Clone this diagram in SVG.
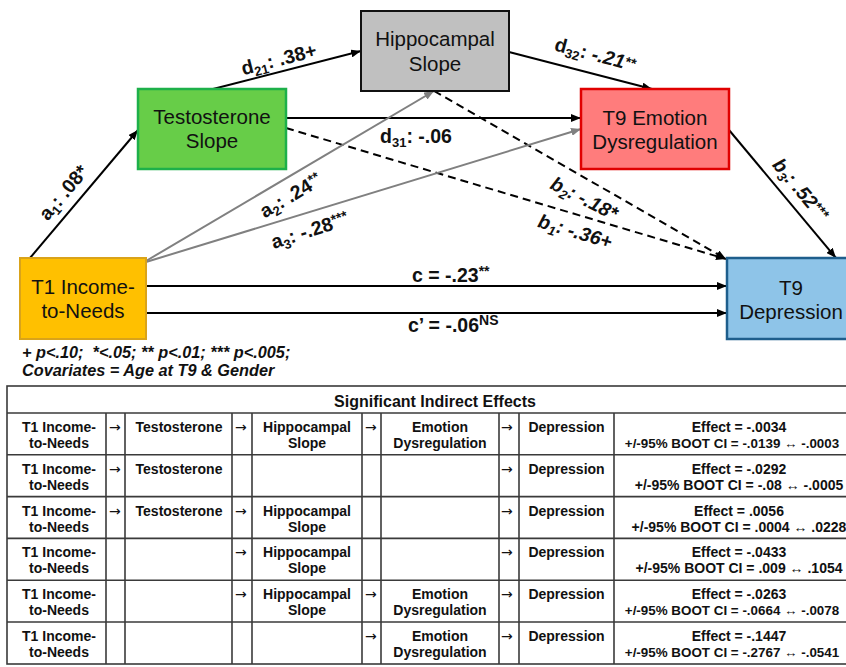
<svg xmlns="http://www.w3.org/2000/svg" width="846" height="667" viewBox="0 0 846 667">
<style>
.node{font-family:"Liberation Sans",Arial,sans-serif;font-size:20.5px;fill:#111;text-anchor:middle}
.lab{font-family:"Liberation Sans",Arial,sans-serif;font-size:19.5px;font-weight:bold;fill:#111}
.it{font-style:italic}
.sub{font-size:13px}
.sup{font-size:14px}
.blk{stroke:#000;stroke-width:2;fill:none}
.gry{stroke:#808080;stroke-width:2;fill:none}
.dash{stroke-dasharray:8 5}
.note{font-family:"Liberation Sans",Arial,sans-serif;font-size:16.3px;font-weight:bold;font-style:italic;fill:#111;white-space:pre}
.tl{stroke:#3a3a3a;stroke-width:1.6;fill:none}
.tt{font-family:"Liberation Sans",Arial,sans-serif;font-size:14px;font-weight:bold;fill:#111;text-anchor:middle}
.tn{font-size:13.4px}
.ta{font-family:"DejaVu Sans",sans-serif;font-size:14px;fill:#111}
.title{font-family:"Liberation Sans",Arial,sans-serif;font-size:16px;font-weight:bold;fill:#111;text-anchor:middle}
</style>
<defs>
<marker id="ab" viewBox="0 0 10 8" refX="10" refY="4" markerWidth="10" markerHeight="8" markerUnits="userSpaceOnUse" orient="auto"><path d="M0,0 L10,4 L0,8 z" fill="#000"/></marker>
<marker id="ag" viewBox="0 0 10 8" refX="10" refY="4" markerWidth="10" markerHeight="8" markerUnits="userSpaceOnUse" orient="auto"><path d="M0,0 L10,4 L0,8 z" fill="#808080"/></marker>
</defs>
<rect width="846" height="667" fill="#fff"/>

<g id="connectors">
<line class="blk" x1="30" y1="258" x2="138" y2="130" marker-end="url(#ab)"/>
<line class="blk" x1="213" y1="89" x2="361" y2="51" marker-end="url(#ab)"/>
<line class="blk" x1="286" y1="118" x2="581" y2="118" marker-end="url(#ab)"/>
<line class="blk dash" x1="286" y1="128" x2="726" y2="259" marker-end="url(#ab)"/>
<line class="blk" x1="509" y1="52" x2="652" y2="89" marker-end="url(#ab)"/>
<line class="blk dash" x1="434" y1="91" x2="726" y2="259" marker-end="url(#ab)"/>
<line class="gry" x1="146" y1="261" x2="434" y2="91" marker-end="url(#ag)"/>
<line class="gry" x1="146" y1="262" x2="581" y2="129" marker-end="url(#ag)"/>
<line class="blk" x1="729" y1="130" x2="836" y2="258" marker-end="url(#ab)"/>
<line class="blk" x1="146" y1="286" x2="727" y2="286" marker-end="url(#ab)"/>
<line class="blk" x1="146" y1="313" x2="727" y2="313" marker-end="url(#ab)"/>
</g>

<g id="node-testosterone">
<rect x="138" y="89" width="148" height="80" fill="#67CD48" stroke="#1DB04A" stroke-width="2.5"/>
<text class="node" x="212" y="124">Testosterone</text>
<text class="node" x="212" y="148">Slope</text>
</g>
<g id="node-hippocampal">
<rect x="361" y="11" width="148" height="80" fill="#C0C0C0" stroke="#111" stroke-width="2"/>
<text class="node" x="435" y="46">Hippocampal</text>
<text class="node" x="435" y="71">Slope</text>
</g>
<g id="node-emotion">
<rect x="581" y="89" width="148" height="80" fill="#FF7C7C" stroke="#E00000" stroke-width="2.5"/>
<text class="node" x="655" y="125">T9 Emotion</text>
<text class="node" x="655" y="149">Dysregulation</text>
</g>
<g id="node-depression">
<rect x="727" y="258" width="130" height="81" fill="#8EC4E8" stroke="#1E5E8C" stroke-width="2.5"/>
<text class="node" x="791" y="295">T9</text>
<text class="node" x="791" y="319">Depression</text>
</g>
<g id="node-income">
<rect x="20" y="258" width="126" height="81" fill="#FFC000" stroke="#D9A31A" stroke-width="2"/>
<text class="node" x="83" y="294">T1 Income-</text>
<text class="node" x="83" y="318">to-Needs</text>
</g>

<g id="labels">
<g transform="translate(64,193) rotate(-49.8)"><text class="lab" x="0" y="6" text-anchor="middle">a<tspan class="sub" dy="4">1</tspan><tspan dy="-4">: .08*</tspan></text></g>
<g transform="translate(279,60) rotate(-14.4)"><text class="lab" x="0" y="6" text-anchor="middle">d<tspan class="sub" dy="4">21</tspan><tspan dy="-4">: .38+</tspan></text></g>
<text class="lab" x="380" y="143">d<tspan class="sub" dy="4">31</tspan><tspan dy="-4">: -.06</tspan></text>
<g transform="translate(595,55) rotate(14.9)"><text class="lab" x="0" y="6" text-anchor="middle">d<tspan class="sub" dy="4">32</tspan><tspan dy="-4">: </tspan><tspan class="it">-.21</tspan><tspan class="sup it" dy="-3">**</tspan></text></g>
<g transform="translate(291,196) rotate(-30.8)"><text class="lab" x="0" y="6" text-anchor="middle">a<tspan class="sub" dy="4">2</tspan><tspan dy="-4">: .24</tspan><tspan class="sup" dy="-5">**</tspan></text></g>
<g transform="translate(310,231) rotate(-18)"><text class="lab" x="0" y="6" text-anchor="middle">a<tspan class="sub" dy="4">3</tspan><tspan dy="-4">: -.28</tspan><tspan class="sup" dy="-5">***</tspan></text></g>
<g transform="translate(584,199) rotate(27)"><text class="lab it" x="0" y="6" text-anchor="middle">b<tspan class="sub" dy="4">2</tspan><tspan dy="-4">: -.18*</tspan></text></g>
<g transform="translate(575,232) rotate(16.7)"><text class="lab it" x="0" y="6" text-anchor="middle">b<tspan class="sub" dy="4">1</tspan><tspan dy="-4">: -.36+</tspan></text></g>
<g transform="translate(800,190) rotate(50)"><text class="lab it" x="0" y="6" text-anchor="middle">b<tspan class="sub" dy="4">3</tspan><tspan dy="-4">: .52</tspan><tspan class="sup" dy="-4">***</tspan></text></g>
<text class="lab" x="412" y="282">c = -.23<tspan class="sup" dy="-6">**</tspan></text>
<text class="lab" x="408" y="332">c’ = -.06<tspan class="sup" dy="-7">NS</tspan></text>
</g>

<g id="footnote">
<text class="note" x="22" y="358">+ p&lt;.10;  *&lt;.05; ** p&lt;.01; *** p&lt;.005;</text>
<text class="note" x="22" y="376">Covariates = Age at T9 &amp; Gender</text>
</g>

<g id="table">
<rect class="tl" x="7" y="386" width="860" height="278" stroke-width="2"/>
<line class="tl" x1="7" y1="413" x2="867" y2="413"/>
<line class="tl" x1="7" y1="454.8" x2="867" y2="454.8"/>
<line class="tl" x1="7" y1="496.6" x2="867" y2="496.6"/>
<line class="tl" x1="7" y1="538.4" x2="867" y2="538.4"/>
<line class="tl" x1="7" y1="580.2" x2="867" y2="580.2"/>
<line class="tl" x1="7" y1="622" x2="867" y2="622"/>
<line class="tl" x1="106" y1="413" x2="106" y2="664"/>
<line class="tl" x1="125" y1="413" x2="125" y2="664"/>
<line class="tl" x1="232" y1="413" x2="232" y2="664"/>
<line class="tl" x1="252" y1="413" x2="252" y2="664"/>
<line class="tl" x1="362" y1="413" x2="362" y2="664"/>
<line class="tl" x1="381" y1="413" x2="381" y2="664"/>
<line class="tl" x1="499" y1="413" x2="499" y2="664"/>
<line class="tl" x1="519" y1="413" x2="519" y2="664"/>
<line class="tl" x1="614" y1="413" x2="614" y2="664"/>
<text class="title" x="435" y="407">Significant Indirect Effects</text>

<!-- row 1 -->
<text class="tt" x="59" y="432">T1 Income-</text><text class="tt" x="59" y="448">to-Needs</text>
<text class="ta" x="109" y="432">→</text>
<text class="tt" x="179" y="432">Testosterone</text>
<text class="ta" x="235" y="432">→</text>
<text class="tt" x="307" y="432">Hippocampal</text><text class="tt" x="307" y="448">Slope</text>
<text class="ta" x="365" y="432">→</text>
<text class="tt" x="440" y="432">Emotion</text><text class="tt" x="440" y="448">Dysregulation</text>
<text class="ta" x="501" y="432">→</text>
<text class="tt" x="566.5" y="432">Depression</text>
<text class="tt" x="739" y="432">Effect = -.0034</text><text class="tt tn" x="732" y="448">+/-95% BOOT CI = -.0139 ↔ -.0003</text>

<!-- row 2 -->
<text class="tt" x="59" y="473.8">T1 Income-</text><text class="tt" x="59" y="489.8">to-Needs</text>
<text class="ta" x="109" y="473.8">→</text>
<text class="tt" x="179" y="473.8">Testosterone</text>
<text class="ta" x="501" y="473.8">→</text>
<text class="tt" x="566.5" y="473.8">Depression</text>
<text class="tt" x="739" y="473.8">Effect = -.0292</text><text class="tt" x="739" y="489.8">+/-95% BOOT CI = -.08 ↔ -.0005</text>

<!-- row 3 -->
<text class="tt" x="59" y="515.6">T1 Income-</text><text class="tt" x="59" y="531.6">to-Needs</text>
<text class="ta" x="109" y="515.6">→</text>
<text class="tt" x="179" y="515.6">Testosterone</text>
<text class="ta" x="235" y="515.6">→</text>
<text class="tt" x="307" y="515.6">Hippocampal</text><text class="tt" x="307" y="531.6">Slope</text>
<text class="ta" x="501" y="515.6">→</text>
<text class="tt" x="566.5" y="515.6">Depression</text>
<text class="tt" x="739" y="515.6">Effect = .0056</text><text class="tt" x="739" y="531.6">+/-95% BOOT CI = .0004 ↔ .0228</text>

<!-- row 4 -->
<text class="tt" x="59" y="557.4">T1 Income-</text><text class="tt" x="59" y="573.4">to-Needs</text>
<text class="ta" x="235" y="557.4">→</text>
<text class="tt" x="307" y="557.4">Hippocampal</text><text class="tt" x="307" y="573.4">Slope</text>
<text class="ta" x="501" y="557.4">→</text>
<text class="tt" x="566.5" y="557.4">Depression</text>
<text class="tt" x="739" y="557.4">Effect = -.0433</text><text class="tt" x="739" y="573.4">+/-95% BOOT CI = .009 ↔ .1054</text>

<!-- row 5 -->
<text class="tt" x="59" y="599.2">T1 Income-</text><text class="tt" x="59" y="615.2">to-Needs</text>
<text class="ta" x="235" y="599.2">→</text>
<text class="tt" x="307" y="599.2">Hippocampal</text><text class="tt" x="307" y="615.2">Slope</text>
<text class="ta" x="365" y="599.2">→</text>
<text class="tt" x="440" y="599.2">Emotion</text><text class="tt" x="440" y="615.2">Dysregulation</text>
<text class="ta" x="501" y="599.2">→</text>
<text class="tt" x="566.5" y="599.2">Depression</text>
<text class="tt" x="739" y="599.2">Effect = -.0263</text><text class="tt tn" x="732" y="615.2">+/-95% BOOT CI = -.0664 ↔ -.0078</text>

<!-- row 6 -->
<text class="tt" x="59" y="641">T1 Income-</text><text class="tt" x="59" y="657">to-Needs</text>
<text class="ta" x="365" y="641">→</text>
<text class="tt" x="440" y="641">Emotion</text><text class="tt" x="440" y="657">Dysregulation</text>
<text class="ta" x="501" y="641">→</text>
<text class="tt" x="566.5" y="641">Depression</text>
<text class="tt" x="739" y="641">Effect = -.1447</text><text class="tt tn" x="732" y="657">+/-95% BOOT CI = -.2767 ↔ -.0541</text>
</g>
</svg>
